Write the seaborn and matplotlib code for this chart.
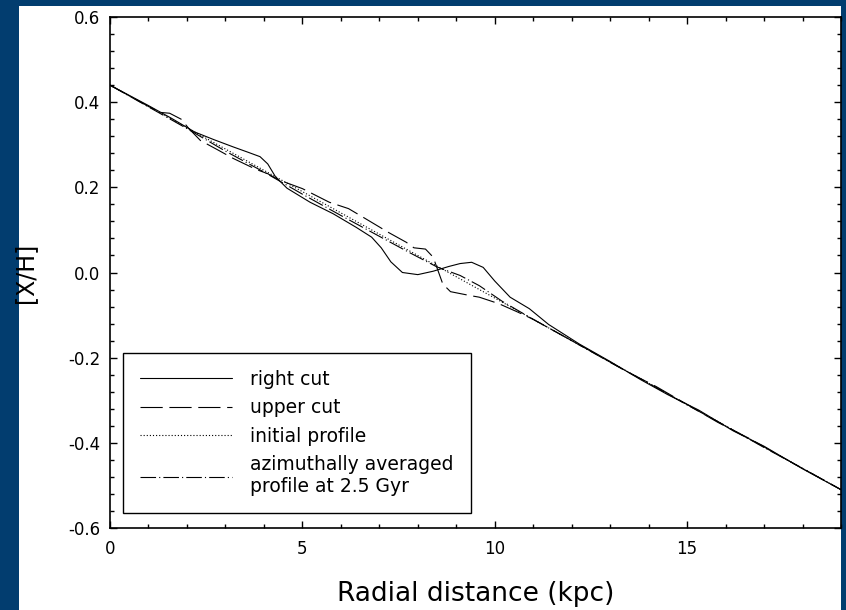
import matplotlib
matplotlib.use("Agg")
import matplotlib.pyplot as plt
from matplotlib.patches import Rectangle
from matplotlib.ticker import MultipleLocator
import seaborn as sns
import pandas as pd

# ---------------- data ----------------
labels = ["right cut", "upper cut", "initial profile",
          "azimuthally averaged\nprofile at 2.5 Gyr"]

r_right = [0, 1.0, 1.6, 2.2, 2.7, 3.2, 3.6, 3.9, 4.1, 4.3, 4.6, 5.2, 5.8, 6.4,
           6.8, 7.05, 7.3, 7.6, 8.0, 8.4, 8.8, 9.1, 9.4, 9.7, 10.0, 10.4, 10.9,
           11.4, 12.2, 13.0, 13.8, 14.5, 15.3, 16.2, 17.0, 18.0, 19.0]
xh_right = [0.44, 0.392, 0.362, 0.33, 0.312, 0.295, 0.282, 0.272, 0.255, 0.225,
            0.198, 0.165, 0.138, 0.106, 0.083, 0.058, 0.025, 0.0, -0.005, 0.003,
            0.014, 0.021, 0.024, 0.012, -0.02, -0.058, -0.085, -0.122, -0.168,
            -0.209, -0.252, -0.287, -0.323, -0.372, -0.408, -0.461, -0.51]

r_upper = [0, 1.0, 1.3, 1.55, 1.85, 2.05, 2.35, 2.8, 3.2, 3.8, 4.1, 4.4, 5.0,
           5.7, 6.2, 6.5, 7.0, 7.2, 7.7, 7.9, 8.2, 8.4, 8.65, 8.85, 9.35, 9.6,
           10.1, 10.6, 11.0, 11.8, 12.6, 13.4, 14.2, 15.0, 15.8, 16.6, 17.4,
           18.2, 19.0]
xh_upper = [0.44, 0.39, 0.376, 0.374, 0.36, 0.338, 0.31, 0.288, 0.268, 0.242,
            0.232, 0.217, 0.197, 0.165, 0.15, 0.134, 0.107, 0.096, 0.071, 0.058,
            0.055, 0.036, -0.027, -0.045, -0.054, -0.058, -0.073, -0.093, -0.11,
            -0.15, -0.19, -0.231, -0.268, -0.31, -0.352, -0.389, -0.43, -0.47,
            -0.51]

r_init = [0, 19.0]
xh_init = [0.44, -0.51]

r_avg = [0, 2.0, 3.0, 4.0, 5.0, 6.0, 7.0, 7.8, 8.5, 9.1, 9.6, 10.2, 11.0, 12.0,
         13.0, 14.0, 15.0, 16.0, 17.0, 18.0, 19.0]
xh_avg = [0.44, 0.338, 0.285, 0.236, 0.184, 0.134, 0.085, 0.046, 0.013, -0.007,
          -0.031, -0.068, -0.11, -0.16, -0.211, -0.26, -0.311, -0.36, -0.411,
          -0.46, -0.51]

x_ticks = [0, 5, 10, 15]
y_ticks = [-0.6, -0.4, -0.2, 0.0, 0.2, 0.4, 0.6]

# ---------------- frame ----------------
sns.set_theme(style="white")
plt.rcParams["font.family"] = ["DejaVu Sans"]
plt.rcParams["axes.unicode_minus"] = False

W, H = 846, 610
fig = plt.figure(figsize=(W / 100, H / 100), dpi=100, facecolor="#023d6f")
fig.patches.append(Rectangle((19 / W, 0), (841 - 19) / W, (H - 6) / H,
                             transform=fig.transFigure, facecolor="white",
                             edgecolor="none", zorder=-1))
ax = fig.add_axes([110 / W, (H - 528) / H, (841 - 110) / W, (528 - 17) / H])
ax.set_facecolor("white")

frames = [
    pd.DataFrame({"r": r_right, "xh": xh_right, "profile": labels[0]}),
    pd.DataFrame({"r": r_upper, "xh": xh_upper, "profile": labels[1]}),
    pd.DataFrame({"r": r_init, "xh": xh_init, "profile": labels[2]}),
    pd.DataFrame({"r": r_avg, "xh": xh_avg, "profile": labels[3]}),
]
df = pd.concat(frames, ignore_index=True)

palette = {lab: "black" for lab in labels}
dashes = {labels[0]: "",
          labels[1]: (20, 6),
          labels[2]: (1.0, 1.8),
          labels[3]: (14, 2.8, 1.0, 2.8)}

sns.lineplot(data=df, x="r", y="xh", hue="profile", style="profile",
             hue_order=labels, style_order=labels, palette=palette,
             dashes=dashes, estimator=None, sort=False, lw=0.8, ax=ax,
             legend=False)

ax.set_xlim(0, 19)
ax.set_ylim(-0.6, 0.6)
ax.set_xticks(x_ticks)
ax.set_yticks(y_ticks)
ax.yaxis.set_major_formatter(plt.FormatStrFormatter("%.1f"))
ax.xaxis.set_minor_locator(MultipleLocator(1))
ax.yaxis.set_minor_locator(MultipleLocator(0.04))
ax.tick_params(which="both", direction="in", top=True, right=True,
               bottom=True, left=True, colors="black", width=1.0,
               labelsize=12)
ax.tick_params(which="major", length=5, pad=9)
ax.tick_params(which="minor", length=3)
ax.tick_params(axis="y", which="major", pad=7)
for s in ax.spines.values():
    s.set_visible(True)
    s.set_color("black")
    s.set_linewidth(1.2)

ax.set_xlabel("Radial distance (kpc)", fontsize=19, labelpad=16, color="black")
ax.set_ylabel("[X/H]", fontsize=17, labelpad=22, color="black")

leg = ax.legend(handles=ax.lines[:4], labels=labels, loc="lower left",
                bbox_to_anchor=(13 / 731, 15 / 511), borderaxespad=0,
                fontsize=13.5, frameon=True, fancybox=False, framealpha=1,
                edgecolor="black", handlelength=4.9, handletextpad=1.0,
                labelspacing=0.5, borderpad=0.9)
leg.get_frame().set_linewidth(1.0)
for t in leg.get_texts():
    t.set_color("black")

fig.savefig("out.png", dpi=100, facecolor=fig.get_facecolor())
